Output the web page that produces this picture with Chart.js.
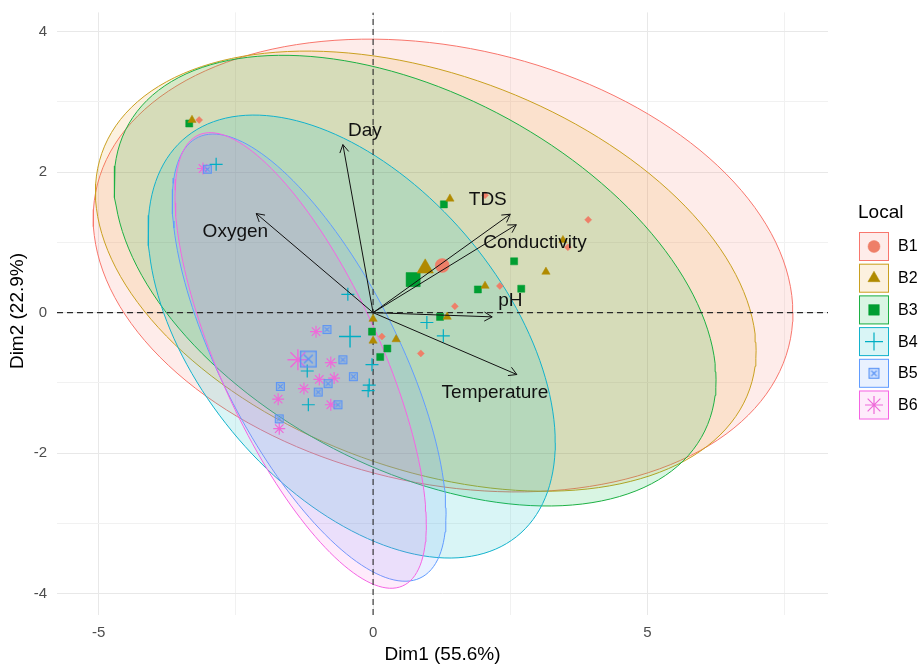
<!DOCTYPE html>
<html>
<head>
<meta charset="utf-8">
<script src="https://cdn.jsdelivr.net/npm/chart.js@4.4.1/dist/chart.umd.min.js"></script>
<style>
  html, body { margin: 0; padding: 0; background: #ffffff; }
  canvas { display: block; }
</style>
</head>
<body>
<canvas id="pca" width="921" height="667"></canvas>
<script>
// ---- groups ----
const groups = ['B1', 'B2', 'B3', 'B4', 'B5', 'B6'];
const legendTitle = 'Local';
const pointColors = ['#EE7F68', '#B08A00', '#009E32', '#00AEC4', '#5C95F5', '#EE6AD9'];
const lineColors  = ['#F8766D', '#C9A020', '#1DB043', '#12B2CC', '#619CFF', '#F564E3'];
const fillColors  = ['rgba(248,118,109,0.14)', 'rgba(235,160,40,0.15)', 'rgba(0,186,70,0.15)',
                     'rgba(0,191,196,0.15)', 'rgba(97,156,255,0.14)', 'rgba(245,100,227,0.13)'];

// ---- individuals (Dim1, Dim2) per group ----
const b1X = [-3.17, 3.92, 3.55, 2.31, 1.49, 0.87, 0.16, 2.04];
const b1Y = [ 2.74, 1.32, 0.93, 0.38, 0.09, -0.58, -0.34, 1.67];
const b2X = [-3.30, 1.40, 3.15, 2.04, 1.35, 0.42, 0.00, 0.00, 3.46];
const b2Y = [ 2.74, 1.62, 0.58, 0.38, -0.06, -0.38, -0.09, -0.40, 1.03];
const b3X = [-3.35, 1.29, 2.57, 2.70, 1.91, 1.22, 0.26, 0.13, -0.02];
const b3Y = [ 2.69, 1.54, 0.73, 0.34, 0.33, -0.06, -0.51, -0.63, -0.27];
const b4X = [-2.86, -0.46, 0.98, 1.28, -0.02, -0.07, -0.09, -1.20, -1.18];
const b4Y = [ 2.11, 0.26, -0.14, -0.33, -0.74, -1.03, -1.11, -0.83, -1.31];
const b5X = [-3.02, -0.84, -0.55, -0.36, -0.82, -1.00, -1.69, -0.64, -1.71];
const b5Y = [ 2.04, -0.24, -0.67, -0.91, -1.01, -1.13, -1.05, -1.31, -1.51];
const b6X = [-3.10, -1.04, -0.77, -0.71, -0.98, -1.26, -1.73, -0.77, -1.71];
const b6Y = [ 2.05, -0.27, -0.71, -0.93, -0.95, -1.08, -1.23, -1.31, -1.65];

// ---- group centroids ----
const meanX = [1.26, 0.95, 0.73, -0.42, -1.18, -1.37];
const meanY = [0.67, 0.63, 0.47, -0.34, -0.66, -0.67];

// ---- concentration ellipses: centre, half-extent along Dim1/Dim2, correlation ----
const ellipseCx  = [1.275, 0.96, 0.765, -0.39, -1.165, -1.32];
const ellipseCy  = [0.67, 0.59, 0.455, -0.34, -0.64, -0.68];
const ellipseRx  = [6.375, 6.02, 5.485, 3.71, 2.495, 2.29];
const ellipseRy  = [3.22, 3.13, 3.205, 3.15, 3.18, 3.24];
const ellipseRho = [-0.21, -0.36, -0.44, -0.48, -0.70, -0.72];
const ELLIPSE_STEPS = 160;

// ---- variables (loadings, arrow tips) and their label positions ----
const varNames = ['Day', 'Oxygen', 'TDS', 'Conductivity', 'pH', 'Temperature'];
const varX   = [-0.55, -2.13, 2.50, 2.61, 2.17, 2.62];
const varY   = [ 2.39,  1.41, 1.40, 1.25, -0.06, -0.88];
const labelX = [-0.15, -2.51, 2.09, 2.95, 2.50, 2.22];
const labelY = [ 2.58,  1.15, 1.61, 1.00, 0.17, -1.14];

// ---- axes ----
const xRange = [-5.76, 8.29];
const yRange = [-4.30, 4.27];
const xGridValues = [-5, -2.5, 0, 2.5, 5, 7.5];
const xTickLabels = [-5, 0, 5];
const yGridValues = [-4, -3, -2, -1, 0, 1, 2, 3, 4];
const yTickLabels = [-4, -2, 0, 2, 4];
const xTitle = 'Dim1 (55.6%)';
const yTitle = 'Dim2 (22.9%)';

const FONT = '"Liberation Sans", Arial, Helvetica, sans-serif';
Chart.defaults.font.family = FONT;

// square with a cross inside (used for B5)
function squareCross(size, color, lw) {
  const c = document.createElement('canvas');
  c.width = c.height = size + 2;
  const g = c.getContext('2d');
  g.strokeStyle = color;
  g.lineWidth = lw;
  const o = 1 + lw / 2, s = size - lw;
  g.fillStyle = 'rgba(97,156,255,0.18)';
  g.fillRect(o, o, s, s);
  g.strokeRect(o, o, s, s);
  const p = s * 0.22;
  g.beginPath();
  g.moveTo(o + p, o + p); g.lineTo(o + s - p, o + s - p);
  g.moveTo(o + s - p, o + p); g.lineTo(o + p, o + s - p);
  g.stroke();
  return c;
}

const pointStyles  = ['rectRot', 'triangle', 'rect', 'cross', squareCross(9, pointColors[4], 1.2), 'star'];
const meanStyles   = ['circle', 'triangle', 'rect', 'cross', squareCross(17, pointColors[4], 1.4), 'star'];
const pointRadius  = [3.5, 4.8, 5, 6.5, 5, 6];
const meanRadius   = [7, 9.5, 10, 11, 9, 10.5];
const groupX = [b1X, b2X, b3X, b4X, b5X, b6X];
const groupY = [b1Y, b2Y, b3Y, b4Y, b5Y, b6Y];

function ellipsePoints(i) {
  const pts = [];
  const r = ellipseRho[i], q = Math.sqrt(1 - r * r);
  for (let k = 0; k <= ELLIPSE_STEPS; k++) {
    const t = 2 * Math.PI * k / ELLIPSE_STEPS;
    pts.push({
      x: ellipseCx[i] + ellipseRx[i] * Math.cos(t),
      y: ellipseCy[i] + ellipseRy[i] * (r * Math.cos(t) + q * Math.sin(t))
    });
  }
  return pts;
}

const datasets = [];
groups.forEach((g, i) => {
  datasets.push({
    type: 'line', label: g + ' ellipse', data: ellipsePoints(i),
    borderColor: lineColors[i], backgroundColor: fillColors[i], borderWidth: 1,
    fill: 'shape', pointRadius: 0, tension: 0, order: 30 - i
  });
});
// dashed reference lines through the origin
datasets.push({
  type: 'line', data: [{x: xRange[0], y: 0}, {x: xRange[1], y: 0}],
  borderColor: '#2A2A2A', borderWidth: 1.1, borderDash: [6, 4], pointRadius: 0, fill: false, order: 8
});
datasets.push({
  type: 'line', data: [{x: 0, y: yRange[0]}, {x: 0, y: yRange[1]}],
  borderColor: '#2A2A2A', borderWidth: 1.1, borderDash: [6, 4], pointRadius: 0, fill: false, order: 8
});
groups.forEach((g, i) => {
  const isLine = i === 3 || i === 5;
  datasets.push({
    type: 'scatter', label: g, data: groupX[i].map((x, k) => ({x, y: groupY[i][k]})),
    pointStyle: pointStyles[i], pointRadius: pointRadius[i],
    backgroundColor: pointColors[i], borderColor: pointColors[i],
    borderWidth: isLine ? 1.2 : 0.5, order: 3
  });
  datasets.push({
    type: 'scatter', label: g + ' mean', data: [{x: meanX[i], y: meanY[i]}],
    pointStyle: meanStyles[i], pointRadius: meanRadius[i],
    backgroundColor: pointColors[i], borderColor: pointColors[i],
    borderWidth: isLine ? 1.4 : 0.5, order: 2
  });
});

// variable arrows with open heads, plus their names
const arrowPlugin = {
  id: 'variableArrows',
  afterDatasetsDraw(chart) {
    const {ctx, scales: {x, y}} = chart;
    const ox = x.getPixelForValue(0), oy = y.getPixelForValue(0);
    ctx.save();
    ctx.strokeStyle = '#111111';
    ctx.lineWidth = 1;
    varNames.forEach((name, i) => {
      const px = x.getPixelForValue(varX[i]), py = y.getPixelForValue(varY[i]);
      ctx.beginPath();
      ctx.moveTo(ox, oy);
      ctx.lineTo(px, py);
      ctx.stroke();
      const a = Math.atan2(py - oy, px - ox), L = 9, s = Math.PI / 6;
      ctx.beginPath();
      ctx.moveTo(px - L * Math.cos(a - s), py - L * Math.sin(a - s));
      ctx.lineTo(px, py);
      ctx.lineTo(px - L * Math.cos(a + s), py - L * Math.sin(a + s));
      ctx.stroke();
    });
    ctx.fillStyle = '#111111';
    ctx.font = '19px ' + FONT;
    ctx.textAlign = 'center';
    ctx.textBaseline = 'middle';
    varNames.forEach((name, i) => {
      ctx.fillText(name, x.getPixelForValue(labelX[i]), y.getPixelForValue(labelY[i]));
    });
    ctx.restore();
  }
};

function drawSymbol(ctx, i, cx, cy) {
  const styles = ['circle', 'triangle', 'rect', 'cross', squareCross(11, pointColors[4], 1.2), 'star'];
  const radii = [6, 7, 7.5, 9, 6, 9];
  ctx.fillStyle = pointColors[i];
  ctx.strokeStyle = pointColors[i];
  ctx.lineWidth = (i === 3 || i === 5) ? 1.2 : 0.5;
  Chart.helpers.drawPoint(ctx, {pointStyle: styles[i], radius: radii[i], borderWidth: ctx.lineWidth, rotation: 0}, cx, cy);
}

// axis titles and the group key
const framePlugin = {
  id: 'frameText',
  afterDraw(chart) {
    const {ctx, chartArea: area} = chart;
    ctx.save();
    ctx.fillStyle = '#000000';
    ctx.font = '19px ' + FONT;
    ctx.textAlign = 'center';
    ctx.textBaseline = 'middle';
    ctx.fillText(xTitle, (area.left + area.right) / 2, 655);
    ctx.save();
    ctx.translate(18, 311);
    ctx.rotate(-Math.PI / 2);
    ctx.fillText(yTitle, 0, 0);
    ctx.restore();

    const kx = area.right + 31, ky = 232, step = 31.7;
    ctx.textAlign = 'left';
    ctx.font = '19px ' + FONT;
    ctx.fillText(legendTitle, kx - 1, 213);
    groups.forEach((g, i) => {
      const top = ky + i * step;
      ctx.fillStyle = fillColors[i];
      ctx.fillRect(kx, top, 30, 29);
      ctx.strokeStyle = lineColors[i];
      ctx.lineWidth = 1;
      ctx.strokeRect(kx + 0.5, top + 0.5, 29, 28);
      drawSymbol(ctx, i, kx + 15, top + 14.5);
      ctx.fillStyle = '#000000';
      ctx.font = '16px ' + FONT;
      ctx.fillText(g, kx + 39, top + 15);
    });
    ctx.restore();
  }
};

new Chart(document.getElementById('pca'), {
  type: 'scatter',
  data: {datasets},
  options: {
    responsive: false,
    animation: false,
    devicePixelRatio: 1,
    events: [],
    layout: {padding: {left: 0, right: 93, top: 8, bottom: 0}},
    plugins: {legend: {display: false}, tooltip: {enabled: false}},
    scales: {
      x: {
        type: 'linear', min: xRange[0], max: xRange[1],
        afterBuildTicks: s => { s.ticks = xGridValues.map(v => ({value: v})); },
        afterFit: s => { s.height = 52; s.paddingLeft = 0; s.paddingRight = 0; },
        ticks: {
          autoSkip: false, maxRotation: 0, padding: 9, color: '#4D4D4D',
          font: {size: 15},
          callback: v => xTickLabels.includes(v) ? String(v) : ''
        },
        grid: {
          drawTicks: false, lineWidth: 1,
          color: c => xTickLabels.includes(c.tick && c.tick.value) ? '#E8E8E8' : '#F1F1F1'
        },
        border: {display: false}
      },
      y: {
        type: 'linear', min: yRange[0], max: yRange[1],
        afterBuildTicks: s => { s.ticks = yGridValues.map(v => ({value: v})); },
        afterFit: s => { s.width = 57; s.paddingTop = 0; s.paddingBottom = 0; },
        ticks: {
          autoSkip: false, padding: 10, color: '#4D4D4D',
          font: {size: 15},
          callback: v => yTickLabels.includes(v) ? String(v) : ''
        },
        grid: {
          drawTicks: false, lineWidth: 1,
          color: c => yTickLabels.includes(c.tick && c.tick.value) ? '#E8E8E8' : '#F1F1F1'
        },
        border: {display: false}
      }
    }
  },
  plugins: [arrowPlugin, framePlugin]
});
</script>
</body>
</html>
